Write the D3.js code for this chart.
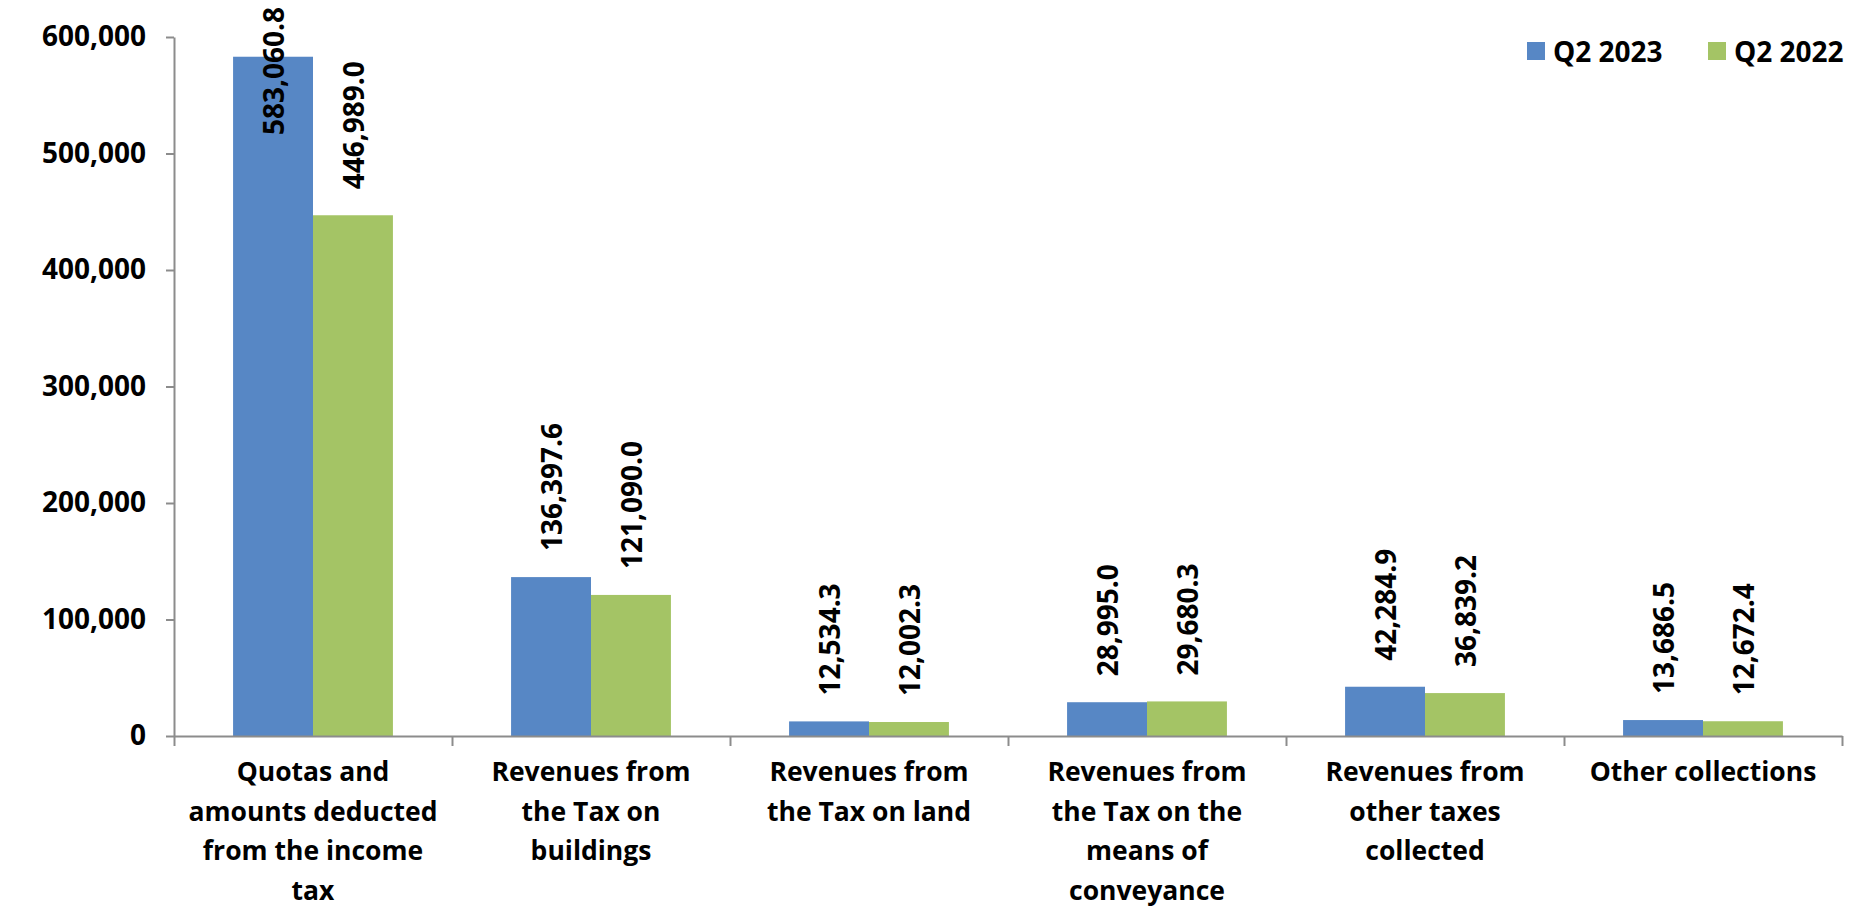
<!DOCTYPE html>
<html lang="en">
<head>
    <meta charset="UTF-8">
    <title>Q2 2023 vs Q2 2022 collections</title>
    <script src="https://d3js.org/d3.v7.min.js"></script>
    <style>
        body { margin: 0; background: #fff; }
        text { font-family: "Open Sans", sans-serif; font-weight: bold; fill: #000; }
        .axis path, .axis line { stroke: #8c8c8c; stroke-width: 2; }
    </style>
</head>
<body>
<div id="chart"></div>
<script>
    // chart data
    const categories = [
        ["Quotas and", "amounts deducted", "from the income", "tax"],
        ["Revenues from", "the Tax on", "buildings"],
        ["Revenues from", "the Tax on land"],
        ["Revenues from", "the Tax on the", "means of", "conveyance"],
        ["Revenues from", "other taxes", "collected"],
        ["Other collections"]
    ];
    const seriesNames = ["Q2 2023", "Q2 2022"];
    const q2_2023 = [583060.8, 136397.6, 12534.3, 28995.0, 42284.9, 13686.5];
    const q2_2022 = [446989.0, 121090.0, 12002.3, 29680.3, 36839.2, 12672.4];
    const yTicks = [0, 100000, 200000, 300000, 400000, 500000, 600000];
    const colors = ["#5787c5", "#a4c465"];

    const width = 1876, height = 908;
    const m = {left: 174, right: 1842, top: 37, bottom: 736};

    const svg = d3.select("#chart").append("svg")
        .attr("width", width)
        .attr("height", height);

    const catIdx = d3.range(categories.length);

    const y = d3.scaleLinear().domain([0, 600000]).range([m.bottom, m.top]);

    // category bands (bars take the middle part of each band)
    const x0 = d3.scaleBand().domain(catIdx).range([m.left, m.right])
        .paddingInner(0.425).paddingOuter(0.2125);
    const x1 = d3.scaleBand().domain(d3.range(seriesNames.length)).range([0, x0.bandwidth()]);
    const xEdge = d3.scaleLinear().domain([0, categories.length]).range([m.left, m.right]);

    const rows = catIdx.map(i => [q2_2023[i], q2_2022[i]]);

    // bars
    const groups = svg.selectAll("g.cat")
        .data(rows)
        .join("g")
        .attr("class", "cat")
        .attr("transform", (d, i) => `translate(${x0(i)},0)`);

    groups.selectAll("rect")
        .data(d => d)
        .join("rect")
        .attr("x", (d, j) => x1(j))
        .attr("width", x1.bandwidth())
        .attr("y", d => y(d))
        .attr("height", d => m.bottom - y(d))
        .attr("fill", (d, j) => colors[j]);

    // y axis
    svg.append("g")
        .attr("class", "axis")
        .attr("transform", `translate(${m.left},0)`)
        .call(d3.axisLeft(y).tickValues(yTicks).tickSize(8).tickSizeOuter(0).tickFormat(d3.format(",")))
        .call(g => g.selectAll("text")
            .attr("x", -28)
            .style("font-size", "28px")
            .style("font-family", "'Open Sans', sans-serif")
            .style("font-weight", "bold")
            .attr("fill", "#000"));

    // x axis
    svg.append("g")
        .attr("class", "axis")
        .attr("transform", `translate(0,${m.bottom})`)
        .call(d3.axisBottom(xEdge).tickValues(d3.range(categories.length + 1)).tickSize(10).tickSizeOuter(0).tickFormat(""));

    // category labels
    const catLabels = svg.selectAll("text.cat-label")
        .data(categories)
        .join("text")
        .attr("class", "cat-label")
        .attr("text-anchor", "middle")
        .style("font-size", "26.5px")
        .attr("transform", (d, i) => `translate(${x0(i) + x0.bandwidth() / 2},781)`);

    catLabels.selectAll("tspan")
        .data(d => d)
        .join("tspan")
        .attr("x", 0)
        .attr("y", (d, k) => k * 39.5)
        .text(d => d);

    // value labels, rotated, above each bar
    const fmt = d3.format(",.1f");
    groups.selectAll("text.val")
        .data(d => d)
        .join("text")
        .attr("class", "val")
        .style("font-size", "28px")
        .attr("dominant-baseline", "central")
        .text(d => fmt(d))
        .each(function (d, j) {
            // keep labels inside the chart area
            const len = this.getComputedTextLength();
            let base = y(d) - 26;
            if (base - len < 7) base = 7 + len;
            const cx = x1(j) + x1.bandwidth() / 2;
            d3.select(this).attr("transform", `translate(${cx},${base}) rotate(-90)`);
        });

    // legend
    const legend = svg.append("g").attr("transform", "translate(1527,42)");
    const legendX = [0, 181];
    seriesNames.forEach((name, j) => {
        const item = legend.append("g").attr("transform", `translate(${legendX[j]},0)`);
        item.append("rect").attr("width", 18).attr("height", 18).attr("fill", colors[j]);
        item.append("text")
            .attr("x", 26)
            .attr("y", 9)
            .attr("dominant-baseline", "central")
            .style("font-size", "28px")
            .text(name);
    });
</script>
</body>
</html>
